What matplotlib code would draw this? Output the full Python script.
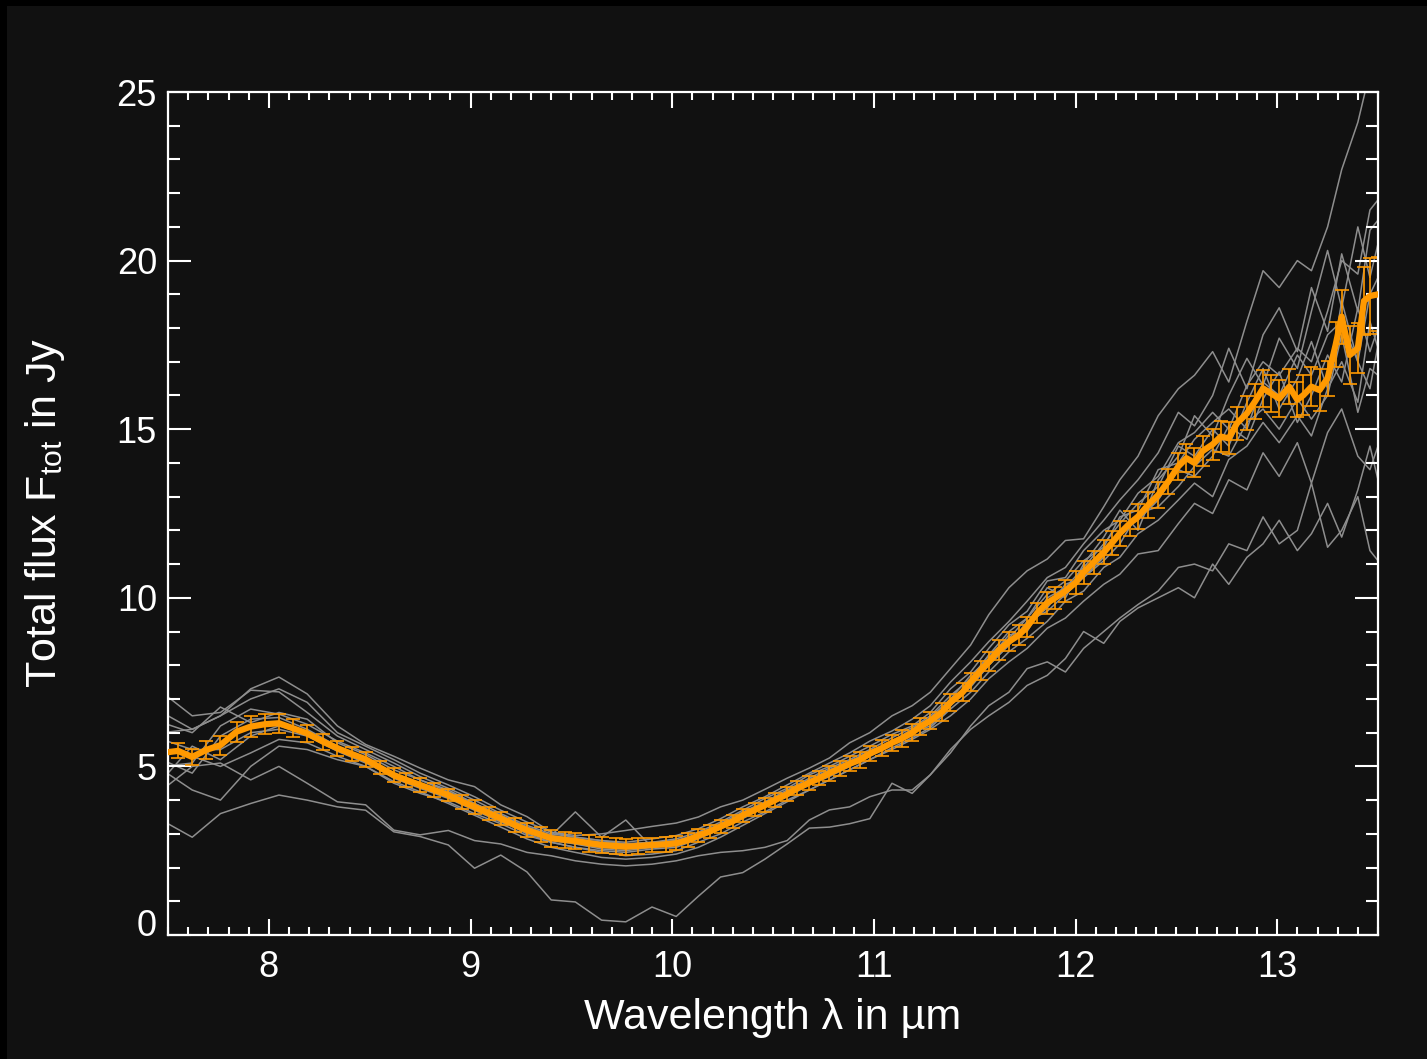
import matplotlib
matplotlib.use('Agg')
import matplotlib.pyplot as plt
from matplotlib.patches import Rectangle
from matplotlib.ticker import MultipleLocator
from matplotlib.transforms import ScaledTranslation

# wavelength grid of the averaged spectrum (micron)
WAVE = [7.47, 7.55, 7.62, 7.69, 7.76, 7.84, 7.91, 7.98, 8.05, 8.12,
        8.19, 8.27, 8.34, 8.41, 8.48, 8.55, 8.62, 8.68, 8.75, 8.82,
        8.89, 8.96, 9.02, 9.09, 9.15, 9.22, 9.28, 9.35, 9.40, 9.47,
        9.52, 9.59, 9.65, 9.72, 9.77, 9.83, 9.90, 9.97, 10.02, 10.08,
        10.13, 10.19, 10.24, 10.30, 10.35, 10.41, 10.46, 10.51, 10.57, 10.62,
        10.68, 10.73, 10.78, 10.83, 10.88, 10.93, 10.98, 11.04, 11.09, 11.14,
        11.19, 11.23, 11.28, 11.34, 11.38, 11.44, 11.48, 11.53, 11.57, 11.62,
        11.67, 11.72, 11.76, 11.81, 11.86, 11.90, 11.95, 12.00, 12.04, 12.09,
        12.14, 12.18, 12.22, 12.27, 12.31, 12.36, 12.41, 12.46, 12.51, 12.55,
        12.59, 12.63, 12.68, 12.72, 12.76, 12.80, 12.85, 12.89, 12.93, 12.97,
        13.01, 13.06, 13.10, 13.13, 13.17, 13.21, 13.25, 13.29, 13.32, 13.36,
        13.40, 13.43, 13.46, 13.50]

# averaged total flux (Jy)
FLUX = [5.40, 5.46, 5.28, 5.49, 5.63, 6.03, 6.18, 6.25, 6.28, 6.13,
        5.98, 5.73, 5.54, 5.37, 5.21, 4.97, 4.74, 4.60, 4.45, 4.30,
        4.15, 3.95, 3.80, 3.61, 3.46, 3.26, 3.11, 2.97, 2.87, 2.82,
        2.79, 2.72, 2.67, 2.64, 2.62, 2.64, 2.67, 2.69, 2.72, 2.82,
        2.95, 3.08, 3.22, 3.37, 3.55, 3.71, 3.85, 4.00, 4.18, 4.35,
        4.52, 4.65, 4.80, 4.94, 5.08, 5.19, 5.38, 5.54, 5.70, 5.83,
        6.00, 6.18, 6.35, 6.62, 6.90, 7.20, 7.50, 7.85, 8.10, 8.45,
        8.70, 8.90, 9.14, 9.55, 9.85, 10.00, 10.20, 10.45, 10.75, 11.05,
        11.35, 11.62, 11.91, 12.21, 12.41, 12.75, 13.05, 13.45, 13.90, 14.14,
        14.00, 14.35, 14.55, 14.78, 14.73, 15.17, 15.47, 15.82, 16.21, 16.06,
        15.91, 16.26, 15.87, 16.01, 16.26, 16.16, 16.51, 17.50, 18.34, 17.20,
        17.40, 18.80, 18.95, 19.00]

FLUX_ERR = [0.25, 0.22, 0.25, 0.27, 0.28, 0.30, 0.30, 0.30, 0.28, 0.27,
            0.25, 0.24, 0.22, 0.22, 0.22, 0.20, 0.20, 0.20, 0.20,
            0.20, 0.19, 0.20, 0.21, 0.20, 0.20, 0.20, 0.21, 0.22, 0.25,
            0.24, 0.24, 0.25, 0.25, 0.24, 0.24, 0.23, 0.22, 0.22, 0.21,
            0.20, 0.20, 0.19, 0.19, 0.19, 0.19, 0.19, 0.20, 0.20, 0.20,
            0.21, 0.21, 0.21, 0.22, 0.22, 0.22, 0.23, 0.23, 0.23, 0.24,
            0.24, 0.25, 0.25,
            0.25, 0.26, 0.26, 0.27, 0.27, 0.28, 0.28, 0.29, 0.29, 0.30,
            0.30, 0.31, 0.32, 0.32, 0.33, 0.33, 0.34, 0.35, 0.35, 0.36,
            0.36, 0.37, 0.37,
            0.38, 0.38, 0.38, 0.40, 0.42, 0.43, 0.45, 0.46, 0.47, 0.48,
            0.50, 0.50, 0.52, 0.55, 0.55, 0.55, 0.52, 0.52, 0.60, 0.58,
            0.62, 0.52, 0.67, 0.80, 0.87, 0.74, 1.00, 1.14, 1.10]

# single measurements, coarser grid
WAVE_SINGLE = [7.47, 7.62, 7.76, 7.91, 8.05, 8.19, 8.34, 8.48, 8.62, 8.75,
               8.89, 9.02, 9.15, 9.28, 9.40, 9.52, 9.65, 9.77, 9.90, 10.02,
               10.13, 10.24, 10.35, 10.46, 10.57, 10.68, 10.78, 10.88, 10.98, 11.09,
               11.19, 11.28, 11.38, 11.48, 11.57, 11.67, 11.76, 11.86, 11.95, 12.04,
               12.14, 12.22, 12.31, 12.41, 12.51, 12.59, 12.68, 12.76, 12.85, 12.93,
               13.01, 13.10, 13.17, 13.25, 13.32, 13.40, 13.46, 13.50]

single_1 = [6.0, 6.1, 6.5, 7.3, 7.65, 7.15, 6.2, 5.65, 5.3, 4.95,
            4.6, 4.4, 3.86, 3.51, 3.05, 2.95, 3.0, 3.1, 3.22, 3.32,
            3.5, 3.8, 4.0, 4.32, 4.65, 4.95, 5.25, 5.7, 6.0, 6.5,
            6.8, 7.2, 7.9, 8.6, 9.5, 10.3, 10.8, 11.15, 11.7, 11.75,
            12.7, 13.5, 14.2, 15.4, 16.2, 16.6, 17.3, 16.4, 18.2, 19.7,
            19.2, 20.0, 19.7, 21.0, 22.7, 24.1, 25.6, 26.5]
single_2 = [3.4, 2.9, 3.6, 3.9, 4.15, 4.0, 3.8, 3.7, 3.06, 2.92,
            2.67, 1.98, 2.37, 1.87, 1.04, 0.98, 0.44, 0.39, 0.83, 0.55,
            1.15, 1.72, 1.85, 2.25, 2.7, 3.17, 3.2, 3.3, 3.45, 4.5,
            4.2, 4.75, 5.4, 6.2, 6.8, 7.2, 7.9, 8.1, 7.8, 8.5,
            9.0, 9.4, 9.8, 10.2, 10.9, 11.0, 10.8, 11.6, 11.4, 12.4,
            11.6, 12.0, 13.4, 11.5, 12.0, 13.0, 11.4, 11.1]
single_3 = [4.3, 5.0, 5.1, 4.6, 5.0, 4.5, 3.95, 3.86, 3.11, 2.97,
            3.1, 2.8, 2.7, 2.45, 2.35, 2.2, 2.1, 2.05, 2.1, 2.2,
            2.35, 2.45, 2.5, 2.6, 2.8, 3.41, 3.71, 3.8, 4.1, 4.3,
            4.3, 4.75, 5.5, 6.1, 6.5, 6.9, 7.4, 7.7, 8.2, 9.0,
            8.65, 9.3, 9.7, 10.0, 10.3, 10.0, 11.0, 10.4, 11.2, 11.6,
            12.3, 11.4, 11.9, 12.8, 11.8, 13.2, 14.5, 13.5]
single_4 = [7.2, 6.5, 6.6, 7.26, 7.21, 6.6, 5.9, 5.5, 5.1, 4.7,
            4.35, 4.0, 3.6, 3.25, 3.0, 2.9, 2.8, 2.7, 2.75, 2.85,
            3.05, 3.35, 3.7, 4.05, 4.35, 4.75, 5.0, 5.3, 5.6, 5.95,
            6.2, 6.6, 7.3, 7.8, 8.5, 9.2, 9.6, 10.5, 10.6, 11.4,
            12.0, 12.3, 13.1, 13.6, 14.6, 14.9, 15.5, 15.0, 16.3, 17.0,
            16.6, 17.4, 17.0, 18.5, 20.0, 19.6, 21.5, 21.8]
single_5 = [6.3, 6.0, 6.76, 6.3, 6.6, 6.4, 5.7, 5.35, 4.9, 4.6,
            4.25, 3.9, 3.55, 3.2, 2.95, 3.65, 2.9, 3.41, 2.6, 2.7,
            2.9, 3.15, 3.5, 3.8, 4.1, 4.45, 4.7, 5.0, 5.3, 5.65,
            6.0, 6.2, 6.8, 7.6, 8.3, 9.0, 9.4, 10.3, 10.0, 11.0,
            11.8, 12.6, 12.0, 13.5, 14.2, 15.4, 14.8, 16.0, 17.1, 16.3,
            17.7, 16.8, 18.5, 20.3, 18.6, 21.0, 19.5, 20.5]
single_6 = [5.8, 5.5, 5.5, 6.0, 6.1, 5.9, 5.45, 5.1, 4.7, 4.4,
            4.1, 3.75, 3.4, 3.0, 2.75, 2.6, 2.5, 2.45, 2.55, 2.6,
            2.85, 3.15, 3.45, 3.8, 4.15, 4.5, 4.8, 5.05, 5.35, 5.7,
            5.95, 6.3, 6.9, 7.4, 8.0, 8.6, 9.2, 9.7, 10.4, 10.6,
            11.2, 12.0, 12.3, 12.9, 13.8, 13.6, 14.2, 15.1, 14.7, 15.9,
            16.7, 15.2, 16.0, 17.2, 16.4, 18.6, 17.3, 18.0]
single_7 = [5.2, 4.8, 5.9, 6.4, 6.45, 6.1, 5.6, 5.25, 4.8, 4.5,
            4.2, 3.85, 3.5, 3.15, 2.9, 2.7, 2.6, 2.55, 2.6, 2.7,
            2.95, 3.25, 3.6, 3.9, 4.25, 4.6, 4.9, 5.15, 5.45, 5.75,
            6.1, 6.45, 7.0, 7.7, 8.2, 8.9, 9.0, 10.0, 10.3, 10.9,
            11.6, 12.2, 12.8, 13.3, 14.5, 14.2, 15.0, 14.5, 15.8, 16.8,
            15.6, 16.5, 17.6, 16.2, 18.8, 17.0, 16.2, 17.5]
single_8 = [4.6, 5.6, 5.2, 5.9, 6.2, 5.95, 5.5, 5.15, 4.65, 4.35,
            4.05, 3.7, 3.35, 3.05, 2.8, 2.7, 2.55, 2.5, 2.6, 2.65,
            2.9, 3.2, 3.5, 3.85, 4.2, 4.5, 4.75, 5.1, 5.4, 5.7,
            5.95, 6.3, 6.8, 7.35, 8.0, 8.6, 9.3, 9.6, 10.1, 10.6,
            11.1, 11.6, 12.5, 12.7, 13.3, 13.9, 14.4, 14.2, 15.2, 15.6,
            15.0, 15.9, 15.3, 16.0, 17.8, 15.5, 16.8, 16.6]
single_9 = [5.0, 5.1, 6.2, 6.7, 6.55, 6.25, 5.75, 5.4, 5.0, 4.6,
            4.3, 3.9, 3.55, 3.2, 2.95, 2.85, 2.75, 2.7, 2.75, 2.8,
            3.0, 3.3, 3.65, 3.95, 4.3, 4.65, 4.95, 5.2, 5.5, 5.85,
            6.15, 6.5, 7.1, 7.6, 8.3, 8.8, 9.4, 10.1, 10.5, 11.1,
            11.5, 12.4, 12.6, 13.8, 14.0, 14.7, 15.2, 15.6, 15.0, 16.4,
            16.0, 17.2, 16.6, 17.8, 18.2, 17.0, 19.0, 19.5]
single_10 = [4.9, 4.3, 4.0, 5.0, 5.6, 5.5, 5.2, 5.0, 4.5, 4.2,
             3.95, 3.6, 3.3, 2.95, 2.75, 2.6, 2.45, 2.35, 2.4, 2.5,
             2.75, 3.0, 3.35, 3.65, 4.0, 4.3, 4.6, 4.9, 5.2, 5.5,
             5.8, 6.1, 6.5, 7.0, 7.6, 8.1, 8.5, 9.1, 9.4, 9.9,
             10.4, 10.7, 11.3, 11.4, 12.2, 12.8, 12.5, 13.5, 13.2, 14.3,
             13.6, 14.6, 13.4, 14.9, 15.6, 14.2, 13.8, 14.5]
single_11 = [5.5, 5.3, 5.0, 5.4, 5.8, 5.7, 5.3, 5.0, 4.55, 4.25,
             3.9, 3.55, 3.2, 2.85, 2.6, 2.45, 2.3, 2.25, 2.3, 2.4,
             2.6, 2.9, 3.25, 3.6, 3.95, 4.3, 4.6, 4.9, 5.2, 5.55,
             5.85, 6.15, 6.7, 7.2, 7.8, 8.4, 8.8, 9.3, 9.9, 10.2,
             10.9, 11.2, 11.9, 12.3, 12.9, 13.4, 13.0, 14.1, 14.5, 15.2,
             14.6, 15.4, 14.8, 16.2, 17.0, 15.8, 18.2, 17.4]
single_12 = [6.6, 6.1, 6.5, 7.0, 7.3, 6.9, 6.0, 5.6, 5.2, 4.8,
             4.45, 4.1, 3.7, 3.35, 3.05, 2.9, 2.8, 2.75, 2.85, 2.95,
             3.15, 3.45, 3.8, 4.1, 4.45, 4.8, 5.1, 5.4, 5.75, 6.05,
             6.4, 6.8, 7.5, 8.1, 8.7, 9.3, 9.9, 10.6, 10.9, 11.6,
             12.3, 12.9, 13.5, 14.3, 15.5, 15.1, 16.0, 17.4, 16.2, 17.8,
             18.6, 17.3, 19.2, 17.9, 20.2, 18.5, 20.9, 21.2]

SINGLES = [single_1, single_2, single_3, single_4, single_5, single_6,
           single_7, single_8, single_9, single_10, single_11, single_12]

BG = '#111111'
ORANGE = '#ff9900'
GRAY = '#8e8e8e'
W, H = 1427, 1059

plt.rcParams['font.family'] = ['Liberation Sans', 'DejaVu Sans']
plt.rcParams['mathtext.fontset'] = 'custom'
plt.rcParams['mathtext.rm'] = 'Liberation Sans'
plt.rcParams['mathtext.it'] = 'Liberation Sans:italic'

fig = plt.figure(figsize=(W / 100, H / 100), dpi=100, facecolor=BG)
# thin black frame on the left and top edge
fig.add_artist(Rectangle((0, 0), 7 / W, 1, transform=fig.transFigure,
                         facecolor='black', edgecolor='none'))
fig.add_artist(Rectangle((0, 1 - 6 / H), 1, 6 / H, transform=fig.transFigure,
                         facecolor='black', edgecolor='none'))

ax = fig.add_axes([168 / W, 1 - 935 / H, (1378 - 168) / W, (935 - 92) / H])
ax.set_facecolor(BG)

for s in SINGLES:
    ax.plot(WAVE_SINGLE, s, color=GRAY, lw=1.1, zorder=1)

ax.errorbar(WAVE, FLUX, yerr=FLUX_ERR, fmt='none', ecolor=ORANGE,
            elinewidth=1.2, capsize=5, capthick=1.2, zorder=2)
ax.plot(WAVE, FLUX, color=ORANGE, lw=4.5, zorder=3, solid_joinstyle='round')

ax.set_xlim(7.5, 13.5)
ax.set_ylim(0, 25)
ax.xaxis.set_major_locator(MultipleLocator(1))
ax.xaxis.set_minor_locator(MultipleLocator(0.1))
ax.yaxis.set_major_locator(MultipleLocator(5))
ax.yaxis.set_minor_locator(MultipleLocator(1))

for sp in ax.spines.values():
    sp.set_color('white')
    sp.set_linewidth(1.6)

ax.tick_params(which='both', direction='in', top=True, right=True,
               colors='white', width=1.5, labelsize=26)
ax.tick_params(axis='x', which='major', length=11.5, pad=11)
ax.tick_params(axis='x', which='minor', length=5.8)
ax.tick_params(axis='y', which='major', length=16.5, pad=8)
ax.tick_params(axis='y', which='minor', length=8.6)

ax.set_xlabel('Wavelength λ in µm', color='white', fontsize=31, labelpad=9)
ax.set_ylabel(r'Total flux F$_{\rm tot}$ in Jy', color='white', fontsize=31,
              labelpad=36)

# lift the "0" label a little off the bottom axis
fig.canvas.draw()
for lbl in ax.get_yticklabels():
    if lbl.get_text() == '0':
        lbl.set_transform(lbl.get_transform() +
                          ScaledTranslation(0, 12 / 100, fig.dpi_scale_trans))

fig.savefig('out.png', dpi=100, facecolor=BG)
